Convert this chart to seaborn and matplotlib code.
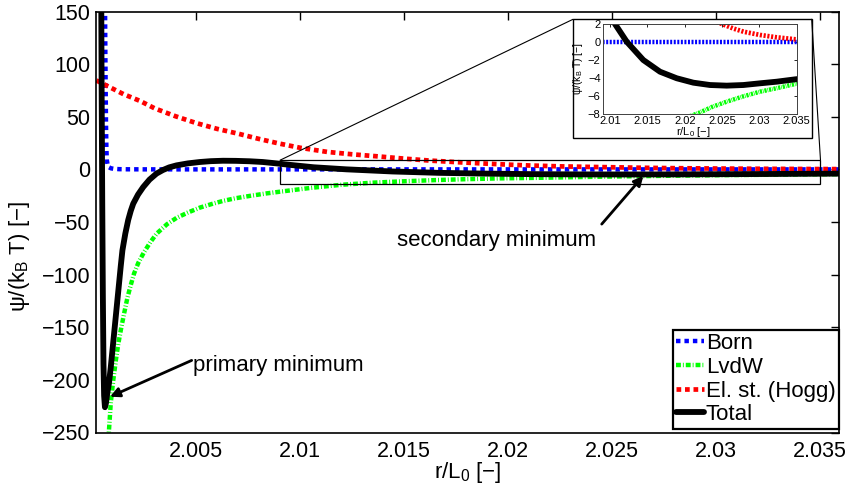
import matplotlib
matplotlib.use("Agg")
import matplotlib.pyplot as plt
import seaborn as sns
from matplotlib.patches import Rectangle
from matplotlib.lines import Line2D

# ---------------- data ----------------
born_x = [2.00050, 2.00056, 2.00060, 2.00063, 2.00066, 2.00068, 2.00070, 2.00074,
          2.00080, 2.00090, 2.00105, 2.00130, 2.0017, 2.0025, 2.004, 2.010, 2.020,
          2.030, 2.0359]
born_y = [1200, 420, 200, 110, 45, 20, 9, 4, 2, 1, 0.5, 0.2, 0.08, 0.02, 0, 0, 0, 0, 0]

lvdw_x = [2.00072, 2.00081, 2.00089, 2.00100, 2.00113, 2.00125, 2.00137, 2.00152,
          2.00169, 2.00185, 2.00201, 2.00221, 2.00248, 2.0028, 2.0031, 2.0036,
          2.00406, 2.0046, 2.00518, 2.0058, 2.0063, 2.0069, 2.00758, 2.00839,
          2.00935, 2.0105, 2.0120, 2.01352, 2.0150, 2.0165, 2.0180, 2.0195,
          2.02182, 2.0237, 2.02562, 2.0278, 2.03009, 2.0325, 2.03478, 2.0359]
lvdw_y = [-275, -246, -222, -202, -182, -166, -153, -138, -122, -110, -99, -89,
          -79, -69, -61, -52, -46, -41, -36.3, -32.6, -29.9, -27.4, -25.2, -22.8,
          -20.4, -17.6, -14.6, -12.6, -11.3, -10.2, -9.3, -8.6, -7.9, -7.2, -6.63,
          -6.05, -5.52, -5.1, -4.67, -4.55]

el_x = [2.0002, 2.0007, 2.0010, 2.0015, 2.0023, 2.0030, 2.0040, 2.0050, 2.0060,
        2.0070, 2.0080, 2.0090, 2.0100, 2.0113, 2.0125, 2.0137, 2.0150, 2.0162,
        2.0175, 2.0186, 2.0200, 2.0210, 2.0225, 2.0240, 2.0250, 2.0265, 2.0279,
        2.0301, 2.0323, 2.0348, 2.0359]
el_y = [84.5, 79.5, 76.5, 71.5, 65, 58, 50.5, 44, 38.5, 34, 29, 24.5, 20.5, 16.6,
        14.3, 12.4, 10.2, 8.4, 6.9, 5.8, 4.5, 3.7, 2.85, 2.3, 2.0, 1.5, 1.14, 0.78,
        0.52, 0.3, 0.24]

total_x = [2.00038, 2.00042, 2.00045, 2.00048, 2.00051, 2.00054, 2.00057, 2.00061,
           2.00066, 2.00072, 2.000805, 2.00089, 2.00097, 2.00105, 2.00113, 2.00121,
           2.00129, 2.00137, 2.00145, 2.00159, 2.00173, 2.00185, 2.00197, 2.0022,
           2.00245, 2.00275, 2.00309, 2.0034, 2.0037, 2.00405, 2.0046, 2.00517,
           2.0057, 2.00629, 2.0069, 2.00757, 2.0082, 2.00886, 2.0095, 2.01065,
           2.01222, 2.01444, 2.01668, 2.01892, 2.02115, 2.02338, 2.02562, 2.02785,
           2.03009, 2.03232, 2.03478, 2.0359]
total_y = [500, 220, 80, -30, -120, -185, -215, -226, -222, -213, -203, -188, -172,
           -156, -140, -124, -108, -92, -77, -61, -48, -39.5, -32.6, -24, -16.8,
           -9.8, -4, -0.6, 1.9, 3.8, 5.7, 7.0, 7.8, 8.2, 8.1, 7.7, 7.0, 5.7, 4.3,
           2.0, 0.03, -2, -3.3, -4.03, -4.52, -4.78, -4.85, -4.78, -4.59, -4.41,
           -4.15, -4.05]

series_names = ["Born", "LvdW", "El. st. (Hogg)", "Total"]

xticks = [2.005, 2.01, 2.015, 2.02, 2.025, 2.03, 2.035]
xtick_labels = ["2.005", "2.01", "2.015", "2.02", "2.025", "2.03", "2.035"]
yticks = [150, 100, 50, 0, -50, -100, -150, -200, -250]
ytick_labels = ["150", "100", "50", "0", "\u221250", "\u2212100", "\u2212150",
                "\u2212200", "\u2212250"]

in_xticks = [2.01, 2.015, 2.02, 2.025, 2.03, 2.035]
in_xtick_labels = ["2.01", "2.015", "2.02", "2.025", "2.03", "2.035"]
in_yticks = [2, 0, -2, -4, -6, -8]
in_ytick_labels = ["2", "0", "\u22122", "\u22124", "\u22126", "\u22128"]

# ---------------- style ----------------
sns.set_theme(style="white")
plt.rcParams["font.family"] = ["Liberation Sans", "DejaVu Sans"]
plt.rcParams["mathtext.fontset"] = "custom"
plt.rcParams["mathtext.rm"] = "Liberation Sans"
plt.rcParams["mathtext.it"] = "Liberation Sans:italic"
plt.rcParams["axes.unicode_minus"] = True
plt.rcParams["text.color"] = "black"
plt.rcParams["axes.labelcolor"] = "black"
plt.rcParams["xtick.color"] = "black"
plt.rcParams["ytick.color"] = "black"

W, H = 856, 492
fig = plt.figure(figsize=(W / 100, H / 100), dpi=100)
fig.patch.set_facecolor("white")


def fx(px):
    return px / W


def fy(py):
    return 1 - py / H


ax = fig.add_axes([fx(96), fy(432.5), fx(839) - fx(96), fy(11.5) - fy(432.5)])
ax.set_zorder(0)


def draw_series(a, dense):
    if dense:
        ls_dot = (0, (0.45, 0.35))
        ls_red = (0, (0.45, 0.35))
        ls_dd = (0, (0.5, 0.2, 0.15, 0.2))
    else:
        ls_dot = (0, (1.0, 0.9))
        ls_red = (0, (1.0, 0.8))
        ls_dd = (0, (1.1, 0.45, 0.2, 0.45))
    sns.lineplot(x=born_x, y=born_y, ax=a, color="#0000ff", lw=3.2,
                 linestyle=ls_dot, legend=False, estimator=None)
    sns.lineplot(x=lvdw_x, y=lvdw_y, ax=a, color="#00ff00", lw=3.2,
                 linestyle=ls_dd, legend=False, estimator=None)
    sns.lineplot(x=el_x, y=el_y, ax=a, color="#ff0000", lw=3.4,
                 linestyle=ls_red, legend=False, estimator=None)
    sns.lineplot(x=total_x, y=total_y, ax=a, color="black", lw=4.2,
                 linestyle="-", legend=False, estimator=None,
                 solid_joinstyle="round")


draw_series(ax, dense=False)
ax.set_xlim(2.00018, 2.03591)
ax.set_ylim(-250, 150)
ax.set_xticks(xticks)
ax.set_xticklabels(xtick_labels)
ax.set_yticks(yticks)
ax.set_yticklabels(ytick_labels)
ax.tick_params(direction="in", length=6, width=1, top=True, right=True,
               labelsize=15.5, pad=4, colors="black")
ax.tick_params(axis="x", pad=6)
for s in ax.spines.values():
    s.set_color("black")
    s.set_linewidth(1.2)
ax.grid(False)

ax.set_xlabel("r/L$_\\mathregular{0}$ [\u2212]", fontsize=16, va="top")
ax.xaxis.set_label_coords(0.5, -0.066)
ax.set_ylabel("\u03c8/(k$_\\mathregular{B}$ T) [\u2212]", fontsize=16)
ax.yaxis.set_label_coords(-0.086, 0.417)

# legend
leg = ax.legend(ax.lines[:4], series_names, loc="lower right",
                bbox_to_anchor=(1.0, 0.0095), borderaxespad=0, frameon=True,
                fancybox=False, framealpha=1, edgecolor="black", fontsize=16,
                handlelength=1.25, handletextpad=0.1, labelspacing=0.12,
                borderpad=0.15)
leg.get_frame().set_linewidth(1.6)
leg.get_frame().set_facecolor("white")

# annotations
arrow_kw = dict(arrowstyle="-|>", color="black", lw=2, mutation_scale=14,
                shrinkA=0, shrinkB=0)
ax.annotate("", xy=(2.000853, -216), xytext=(2.00478, -181.5), arrowprops=arrow_kw)
ax.text(2.00484, -191.4, "primary minimum", fontsize=16, ha="left", va="baseline",
        color="black")
ax.annotate("", xy=(2.0265, -6.2), xytext=(2.0245, -52), arrowprops=arrow_kw)
ax.text(2.01464, -72.6, "secondary minimum", fontsize=16, ha="left", va="baseline",
        color="black")

# zoom rectangle in main axes
rx0, rx1, ry0, ry1 = 2.00903, 2.03502, -13.5, 8.7
ax.add_patch(Rectangle((rx0, ry0), rx1 - rx0, ry1 - ry0, fill=False,
                       edgecolor="black", lw=0.9, zorder=5))

# outer inset box
box_l, box_t, box_r, box_b = 573, 19.3, 811.7, 138.3
fig.add_artist(Rectangle((fx(box_l), fy(box_b)), (box_r - box_l) / W,
                         (box_b - box_t) / H, transform=fig.transFigure,
                         facecolor="white", edgecolor="black", lw=1.0, zorder=2))

# connecting lines
to_fig = fig.transFigure.inverted()
p_tl = to_fig.transform(ax.transData.transform((rx0, ry1)))
p_tr = to_fig.transform(ax.transData.transform((rx1, ry1)))
fig.add_artist(Line2D([p_tl[0], fx(box_l)], [p_tl[1], fy(box_t)],
                      transform=fig.transFigure, color="black", lw=0.8, zorder=2))
fig.add_artist(Line2D([p_tr[0], fx(box_r)], [p_tr[1], fy(box_t)],
                      transform=fig.transFigure, color="black", lw=0.8, zorder=2))

# inset axes
axi = fig.add_axes([fx(602.7), fy(114), (796.7 - 602.7) / W, 90 / H])
axi.set_zorder(3)
draw_series(axi, dense=True)
axi.set_xlim(2.009, 2.035)
axi.set_ylim(-8, 2)
axi.set_xticks(in_xticks)
axi.set_xticklabels(in_xtick_labels)
axi.set_yticks(in_yticks)
axi.set_yticklabels(in_ytick_labels)
axi.tick_params(direction="in", length=2.5, width=0.6, top=True, right=True,
                labelsize=8, pad=1.5, colors="black")
for s in axi.spines.values():
    s.set_color("0.25")
    s.set_linewidth(0.7)
axi.grid(False)
axi.set_xlabel("r/L$_\\mathregular{0}$ [\u2212]", fontsize=8, va="top")
axi.xaxis.set_label_coords(0.47, -0.12)
axi.set_ylabel("\u03c8/(k$_\\mathregular{B}$ T) [\u2212]", fontsize=7.5)
axi.yaxis.set_label_coords(-0.09, 0.5)

fig.savefig("out.png", dpi=100)
